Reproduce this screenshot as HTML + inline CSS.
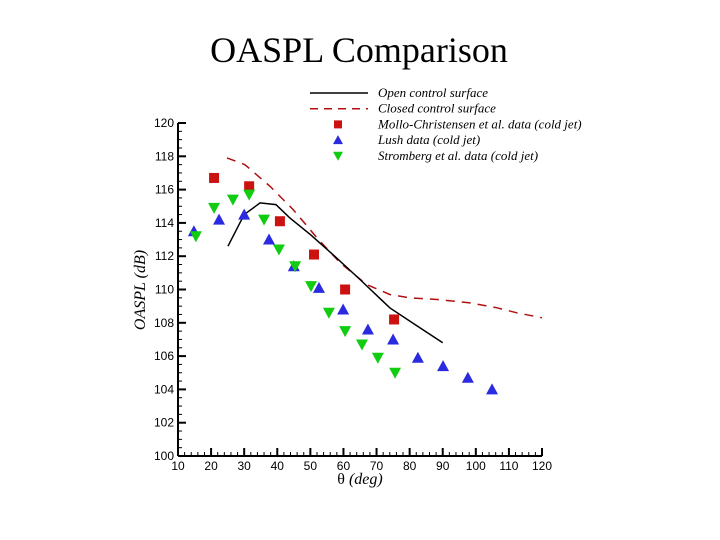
<!DOCTYPE html>
<html><head><meta charset="utf-8"><style>
body{margin:0;background:#fff;width:720px;height:540px;overflow:hidden}
svg{display:block}
.tk{font-family:"Liberation Sans",sans-serif;font-size:12px;fill:#000}
.lg{font-family:"Liberation Serif",serif;font-style:italic;font-size:13px;fill:#000}
</style></head><body>
<svg id="c" width="720" height="540">
<text x="359" y="62" text-anchor="middle" font-family="Liberation Serif,serif" font-size="36">OASPL Comparison</text>
<text transform="translate(145,290) rotate(-90)" text-anchor="middle" class="lg" style="font-size:16px">OASPL (dB)</text>
<text x="360" y="484" text-anchor="middle" font-family="Liberation Serif,serif" font-size="16">θ <tspan font-style="italic">(deg)</tspan></text>
<g id="axes"></g><g id="marks"></g><g id="legend"></g>
</svg>
<script>
const xTicks=[10,20,30,40,50,60,70,80,90,100,110,120];
const yTicks=[100,102,104,106,108,110,112,114,116,118,120];
const mcX=[20.9,31.5,40.8,51.1,60.5,75.3];
const mcY=[116.7,116.2,114.1,112.1,110.0,108.2];
const lushX=[14.8,22.4,30,37.5,45,52.6,59.9,67.4,75,82.5,90.1,97.6,104.9];
const lushY=[113.5,114.2,114.5,113.0,111.4,110.1,108.8,107.6,107.0,105.9,105.4,104.7,104.0];
const strX=[15.4,20.9,26.6,31.5,36,40.5,45.4,50.2,55.6,60.5,65.6,70.4,75.6];
const strY=[113.2,114.9,115.4,115.7,114.2,112.4,111.4,110.2,108.6,107.5,106.7,105.9,105.0];
const openX=[25.1,30,34.8,39.6,43.8,50,56.8,65,74,81.6,90];
const openY=[112.6,114.5,115.2,115.1,114.3,113.3,112.1,110.6,108.9,107.9,106.8];
const closedX=[24.8,30.2,37.8,44.8,52,59,67,74,80.1,88.3,98.2,106.4,112.4,120];
const closedY=[117.9,117.5,116.2,114.8,113.1,111.6,110.3,109.7,109.5,109.4,109.2,108.9,108.6,108.3];
const X0=178,X1=542,Y0=456,Y1=123;
const sx=v=>X0+(v-10)/110*(X1-X0);
const sy=v=>Y0-(v-100)/20*(Y0-Y1);
const NS="http://www.w3.org/2000/svg";
function mk(t,a,p){const e=document.createElementNS(NS,t);for(const k in a)e.setAttribute(k,a[k]);p.appendChild(e);return e;}
const ax=document.getElementById('axes'),mg=document.getElementById('marks'),lg=document.getElementById('legend');
let e=mk('line',{x1:X0,y1:Y0,x2:X1,y2:Y0,stroke:'#000','stroke-width':2},ax);

e=mk('line',{x1:X0,y1:Y0,x2:X0,y2:Y1,stroke:'#000','stroke-width':2},ax);

for(let v=10;v<=120;v+=2){mk('line',{x1:sx(v),y1:Y0,x2:sx(v),y2:Y0-(v%10===0?8:4),stroke:'#000','stroke-width':v%10===0?2:1},ax);}
for(let v=100;v<=120;v+=0.5){const maj=Math.abs(v%2)<1e-6;mk('line',{x1:X0,y1:sy(v),x2:X0+(maj?8:4),y2:sy(v),stroke:'#000','stroke-width':maj?2:1},ax);}
xTicks.forEach(v=>{const t=mk('text',{x:sx(v),y:Y0+14,'text-anchor':'middle',class:'tk'},ax);t.textContent=v;
});
yTicks.forEach(v=>{const t=mk('text',{x:X0-4,y:sy(v)+4,'text-anchor':'end',class:'tk'},ax);t.textContent=v;
});
const pts=(xs,ys)=>xs.map((x,i)=>sx(x)+','+sy(ys[i])).join(' ');
e=mk('polyline',{points:pts(closedX,closedY),fill:'none',stroke:'#b01010','stroke-width':1.5,'stroke-dasharray':'9,7'},mg);

e=mk('polyline',{points:pts(openX,openY),fill:'none',stroke:'#000','stroke-width':1.5},mg);

function sq(x,y,p){return mk('rect',{x:x-5,y:y-5,width:10,height:10,fill:'#cc1111'},p);}
function up(x,y,p){return mk('polygon',{points:`${x},${y-6} ${x-6},${y+5} ${x+6},${y+5}`,fill:'#2a2ae0'},p);}
function dn(x,y,p){return mk('polygon',{points:`${x},${y+6} ${x-6},${y-5} ${x+6},${y-5}`,fill:'#11cc11'},p);}
mcX.forEach((x,i)=>{const m=sq(sx(x),sy(mcY[i]),mg);});
lushX.forEach((x,i)=>{const m=up(sx(x),sy(lushY[i]),mg);});
strX.forEach((x,i)=>{const m=dn(sx(x),sy(strY[i]),mg);});
const labels=['Open control surface','Closed control surface','Mollo-Christensen et al. data (cold jet)','Lush data (cold jet)','Stromberg et al. data (cold jet)'];
labels.forEach((s,i)=>{const y=93+i*15.7;
 const g=mk('g',{},lg);
 if(i===0)mk('line',{x1:310,y1:y,x2:368,y2:y,stroke:'#000','stroke-width':1.5},g);
 if(i===1)mk('line',{x1:310,y1:y,x2:368,y2:y,stroke:'#b01010','stroke-width':1.5,'stroke-dasharray':'8,6'},g);
 if(i===2)mk('rect',{x:334,y:y-4,width:8,height:8,fill:'#cc1111'},g);
 if(i===3)mk('polygon',{points:`338,${y-5} 333,${y+4} 343,${y+4}`,fill:'#2a2ae0'},g);
 if(i===4)mk('polygon',{points:`338,${y+5} 333,${y-4} 343,${y-4}`,fill:'#11cc11'},g);
 const t=mk('text',{x:378,y:y+4,class:'lg'},g);t.textContent=s;});
</script>
</body></html>
